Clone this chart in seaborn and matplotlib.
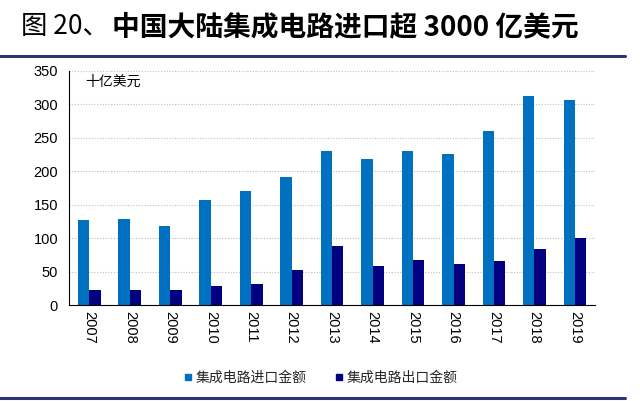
import matplotlib
matplotlib.use("Agg")
import matplotlib.pyplot as plt
import seaborn as sns
import pandas as pd
from matplotlib.lines import Line2D
from matplotlib.ticker import FixedLocator

years = ["2007", "2008", "2009", "2010", "2011", "2012", "2013",
         "2014", "2015", "2016", "2017", "2018", "2019"]
imports = [128, 129, 119, 157, 170, 192, 231, 218, 230, 226, 261, 313, 306]
exports = [23, 23, 22, 28, 32, 52, 88, 59, 68, 61, 66, 84, 101]
series_names = ["集成电路进口金额", "集成电路出口金额"]
colors = ["#0070C0", "#000080"]

sns.set_theme(style="white")
plt.rcParams['font.family'] = ['Noto Sans CJK SC', 'DejaVu Sans']

df = pd.DataFrame({
    "year": years * 2,
    "value": imports + exports,
    "series": [series_names[0]] * len(years) + [series_names[1]] * len(years),
})

fig = plt.figure(figsize=(6.4, 4.01), dpi=100)
ax = fig.add_axes([0.108, 0.239, 0.822, 0.584])

sns.barplot(data=df, x="year", y="value", hue="series", order=years,
            hue_order=series_names, palette=colors, width=0.56, gap=0,
            saturation=1, linewidth=0, edgecolor="none", ax=ax, legend=False)

ax.set_ylim(0, 350)
ax.set_xlim(-0.5, len(years) - 0.5)
ax.set_yticks(range(0, 351, 50))
ax.yaxis.grid(True, color="#BFBFBF", linestyle=(0, (1, 1.5)), linewidth=0.8)
ax.set_axisbelow(True)
for s in ["top", "right"]:
    ax.spines[s].set_visible(False)
for s in ["left", "bottom"]:
    ax.spines[s].set_color("black")
    ax.spines[s].set_linewidth(0.8)
ax.set_xlabel("")
ax.set_ylabel("")
ax.tick_params(axis="y", labelsize=10.5, length=0, pad=8, colors="black")
ax.tick_params(axis="x", labelsize=10.5, length=0, pad=4, colors="black")
for lab in ax.get_xticklabels():
    lab.set_rotation(270)
    lab.set_family(["Liberation Sans", "DejaVu Sans"])
for lab in ax.get_yticklabels():
    lab.set_family(["Liberation Sans", "DejaVu Sans"])
ax.xaxis.set_minor_locator(FixedLocator([i - 0.5 for i in range(len(years) + 1)]))
ax.tick_params(axis="x", which="minor", length=3, width=0.8, direction="out", color="black")

ax.text(0.03, 0.985, "十亿美元", transform=ax.transAxes, fontsize=10,
        va="top", ha="left", color="black")

handles = [Line2D([0], [0], marker="s", linestyle="", markersize=5,
                  markerfacecolor=c, markeredgecolor=c) for c in colors]
fig.legend(handles, series_names, loc="center", bbox_to_anchor=(0.5, 0.057),
           ncol=2, frameon=False, fontsize=10, handletextpad=0.1,
           columnspacing=2.0, handlelength=0.8)

fig.text(0.033, 0.933, "图 20、", fontsize=19,
         ha="left", va="center", color="black")
fig.text(0.175, 0.933, "中国大陆集成电路进口超 3000 亿美元", fontsize=20,
         fontweight="bold", ha="left", va="center", color="black")
fig.add_artist(Line2D([0.0, 0.977], [0.86, 0.86], color="#2E3470", linewidth=2.2,
                      transform=fig.transFigure))
fig.add_artist(Line2D([0.0, 0.977], [0.008, 0.008], color="#2E3470", linewidth=2.2,
                      transform=fig.transFigure))

fig.savefig("out.png", dpi=100)
